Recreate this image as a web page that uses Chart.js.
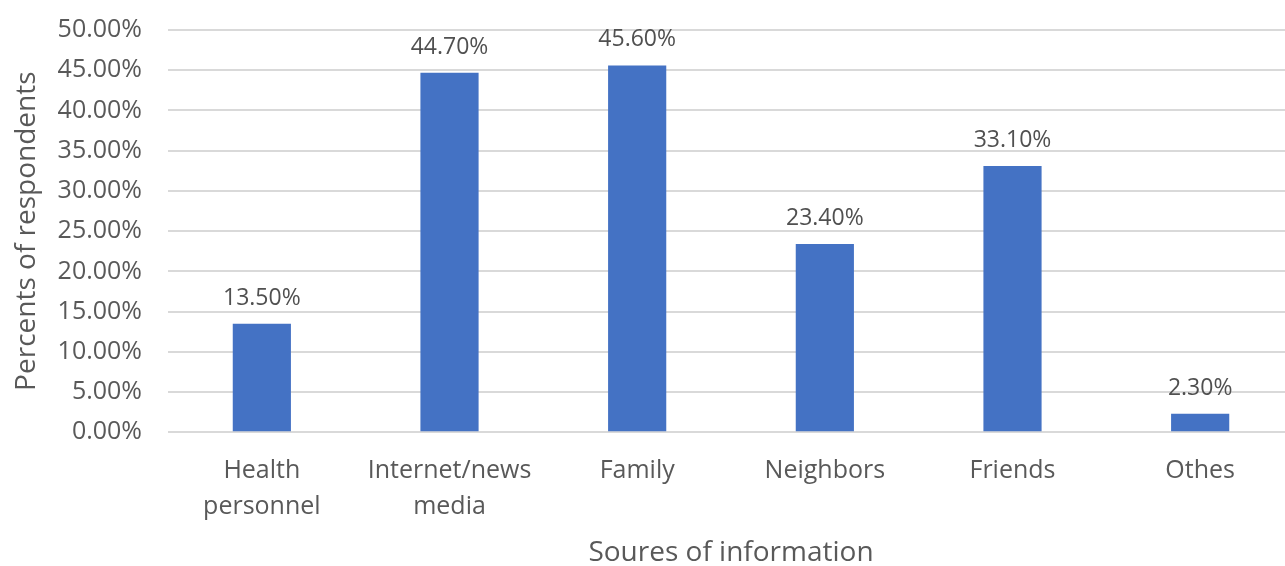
<!DOCTYPE html>
<html>
<head>
<meta charset="utf-8">
<script src="https://cdn.jsdelivr.net/npm/chart.js@4"></script>
<style>
  body { margin: 0; background: #fff; overflow: hidden; }
</style>
</head>
<body>
<canvas id="barChart" width="1294" height="566"></canvas>
<script>
var categories = [["Health", "personnel"], ["Internet/news", "media"], "Family", "Neighbors", "Friends", "Othes"];
var percents = [13.5, 44.7, 45.6, 23.4, 33.1, 2.3];
var yTicks = [0, 5, 10, 15, 20, 25, 30, 35, 40, 45, 50];

// draws the value above each bar
var barLabels = {
  id: 'barLabels',
  afterDatasetsDraw: function(chart) {
    var ctx = chart.ctx;
    var meta = chart.getDatasetMeta(0);
    ctx.save();
    ctx.font = '23px "Open Sans"';
    ctx.fillStyle = '#505050';
    ctx.textAlign = 'center';
    ctx.textBaseline = 'bottom';
    meta.data.forEach(function(bar, i) {
      ctx.fillText(percents[i].toFixed(2) + '%', bar.x, bar.y - 14);
    });
    ctx.restore();
  }
};

new Chart("barChart", {
  type: "bar",
  data: {
    labels: categories,
    datasets: [{
      backgroundColor: "#4472C4",
      data: percents,
      categoryPercentage: 0.31,
      barPercentage: 1
    }]
  },
  options: {
    responsive: false,
    animation: false,
    layout: { padding: { top: 30, right: 0, left: 10, bottom: 0 } },
    plugins: {
      legend: { display: false },
      tooltip: { enabled: false }
    },
    scales: {
      y: {
        min: 0,
        max: 50,
        afterBuildTicks: function(axis) {
          axis.ticks = yTicks.map(function(v) { return { value: v }; });
        },
        afterFit: function(axis) {
          axis.paddingTop = 0;
        },
        ticks: {
          color: '#595959',
          font: { family: 'Open Sans', size: 25 },
          padding: 26,
          callback: function(v) { return v.toFixed(2) + '%'; }
        },
        grid: { color: '#d9d9d9', lineWidth: 2, drawTicks: false },
        border: { display: false },
        title: {
          display: true,
          text: 'Percents of respondents',
          color: '#595959',
          font: { family: 'Open Sans', size: 28 },
          padding: { top: 0, bottom: -12 }
        }
      },
      x: {
        ticks: {
          color: '#595959',
          font: { family: 'Open Sans', size: 25, lineHeight: 1.45 },
          padding: 12,
          maxRotation: 0
        },
        grid: { display: false },
        border: { display: false },
        title: {
          display: true,
          text: 'Soures of information',
          color: '#595959',
          font: { family: 'Open Sans', size: 28, lineHeight: 0.9 },
          padding: { top: 4, bottom: 0 }
        }
      }
    }
  },
  plugins: [barLabels]
});
</script>
</body>
</html>
